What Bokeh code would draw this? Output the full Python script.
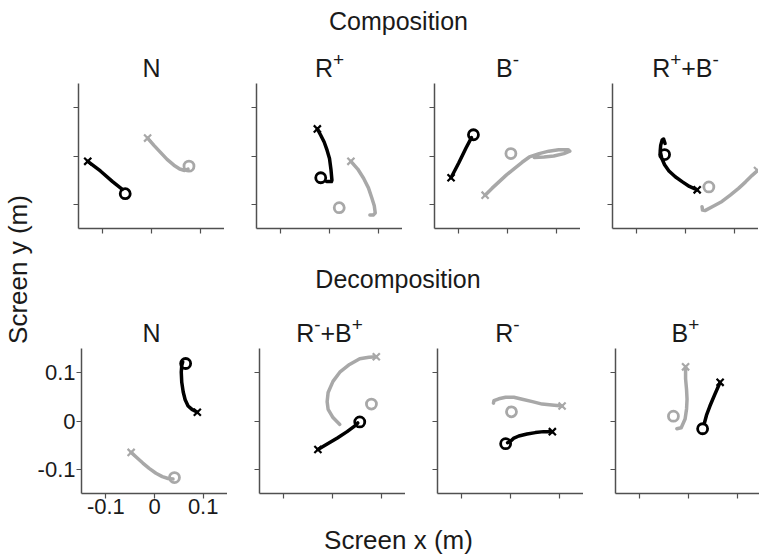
import math
from bokeh.plotting import figure
from bokeh.layouts import row, column
from bokeh.models import Range1d, FixedTicker, CustomJSTickFormatter
from bokeh.core.properties import value
from bokeh.embed import file_html
from bokeh.resources import INLINE

# ---------------- data ----------------
TICKS = [-0.1, 0.0, 0.1]
TICK_LABELS = ["-0.1", "0", "0.1"]
LIMITS = (-0.15, 0.15)

HEADERS = ["Composition", "Decomposition"]
X_LABEL = "Screen x (m)"
Y_LABEL = "Screen y (m)"

# panel titles: (text, is_superscript)
TITLES = [
    [("N", False)],
    [("R", False), ("+", True)],
    [("B", False), ("-", True)],
    [("R", False), ("+", True), ("+B", False), ("-", True)],
    [("N", False)],
    [("R", False), ("-", True), ("+B", False), ("+", True)],
    [("R", False), ("-", True)],
    [("B", False), ("+", True)],
]

# Composition, N
C_N_BLK_X = [-0.131, -0.105, -0.080, -0.060]
C_N_BLK_Y = [-0.011, -0.031, -0.053, -0.069]
C_N_BLK_O = [-0.054, -0.078]
C_N_GRY_X = [-0.008, 0.005, 0.018, 0.032, 0.046, 0.058, 0.068, 0.075]
C_N_GRY_Y = [0.037, 0.022, 0.008, -0.007, -0.019, -0.027, -0.030, -0.027]
C_N_GRY_O = [0.077, -0.021]

# Composition, R+
C_R_BLK_X = [-0.025, -0.018, -0.011, -0.005, 0.000, 0.003, 0.005, 0.004, -0.006]
C_R_BLK_Y = [0.056, 0.043, 0.029, 0.012, -0.005, -0.028, -0.050, -0.053, -0.053]
C_R_BLK_O = [-0.018, -0.045]
C_R_GRY_X = [0.044, 0.058, 0.070, 0.080, 0.087, 0.092, 0.094, 0.090, 0.083]
C_R_GRY_Y = [-0.011, -0.027, -0.046, -0.066, -0.087, -0.103, -0.118, -0.122, -0.122]
C_R_GRY_O = [0.020, -0.107]

# Composition, B-
C_B_BLK_X = [-0.116, -0.100, -0.085, -0.074]
C_B_BLK_Y = [-0.045, -0.014, 0.017, 0.038]
C_B_BLK_O = [-0.070, 0.044]
C_B_GRY_X = [-0.046, -0.032, -0.017, -0.002, 0.014, 0.030, 0.045, 0.065, 0.085,
             0.105, 0.125, 0.128, 0.116, 0.095, 0.075, 0.055]
C_B_GRY_Y = [-0.081, -0.067, -0.053, -0.039, -0.026, -0.013, -0.002, 0.005, 0.010,
             0.013, 0.013, 0.010, 0.005, 0.000, -0.002, -0.003]
C_B_GRY_O = [0.007, 0.005]

# Composition, R+ + B-
C_RB_BLK_X = [0.024, 0.008, -0.007, -0.021, -0.034, -0.043, -0.049, -0.052,
              -0.051, -0.048, -0.045, -0.042]
C_RB_BLK_Y = [-0.070, -0.063, -0.053, -0.043, -0.031, -0.018, -0.004, 0.010,
              0.022, 0.033, 0.035, 0.026]
C_RB_BLK_O = [-0.043, 0.003]
C_RB_GRY_X = [0.148, 0.137, 0.123, 0.109, 0.092, 0.075, 0.055, 0.040, 0.035, 0.034]
C_RB_GRY_Y = [-0.030, -0.040, -0.054, -0.067, -0.081, -0.094, -0.105, -0.113, -0.112, -0.105]
C_RB_GRY_O = [0.048, -0.064]

# Decomposition, N
D_N_BLK_X = [0.088, 0.077, 0.069, 0.063, 0.059, 0.056, 0.055, 0.056, 0.058]
D_N_BLK_Y = [0.018, 0.024, 0.031, 0.044, 0.060, 0.080, 0.101, 0.115, 0.122]
D_N_BLK_O = [0.064, 0.119]
D_N_GRY_X = [-0.048, -0.036, -0.024, -0.011, 0.003, 0.016, 0.028, 0.038]
D_N_GRY_Y = [-0.065, -0.076, -0.087, -0.098, -0.108, -0.115, -0.119, -0.120]
D_N_GRY_O = [0.041, -0.117]

# Decomposition, R- + B+
D_RB_BLK_X = [-0.030, -0.010, 0.010, 0.030, 0.046, 0.052]
D_RB_BLK_Y = [-0.059, -0.047, -0.035, -0.022, -0.010, -0.004]
D_RB_BLK_O = [0.056, -0.002]
D_RB_GRY_X = [0.090, 0.075, 0.056, 0.035, 0.015, 0.001, -0.009, -0.011, -0.009, 0.001, 0.015]
D_RB_GRY_Y = [0.133, 0.132, 0.129, 0.117, 0.101, 0.082, 0.059, 0.040, 0.024, 0.007, -0.007]
D_RB_GRY_O = [0.080, 0.035]

# Decomposition, R-
D_R_BLK_X = [0.086, 0.068, 0.051, 0.034, 0.017, 0.006, 0.000, -0.006]
D_R_BLK_Y = [-0.022, -0.022, -0.024, -0.027, -0.031, -0.036, -0.042, -0.045]
D_R_BLK_O = [-0.010, -0.047]
D_R_GRY_X = [0.106, 0.085, 0.065, 0.045, 0.024, 0.007, -0.010, -0.024, -0.034, -0.035]
D_R_GRY_Y = [0.031, 0.033, 0.035, 0.040, 0.045, 0.049, 0.049, 0.046, 0.042, 0.037]
D_R_GRY_O = [0.002, 0.019]

# Decomposition, B+
D_B_BLK_X = [0.065, 0.054, 0.044, 0.037, 0.033]
D_B_BLK_Y = [0.080, 0.055, 0.031, 0.012, -0.003]
D_B_BLK_O = [0.029, -0.016]
D_B_GRY_X = [-0.006, -0.006, -0.004, -0.003, -0.004, -0.007, -0.015, -0.024]
D_B_GRY_Y = [0.112, 0.087, 0.065, 0.045, 0.025, 0.004, -0.014, -0.016]
D_B_GRY_O = [-0.031, 0.010]

PANELS = [
    (C_N_BLK_X, C_N_BLK_Y, C_N_BLK_O, C_N_GRY_X, C_N_GRY_Y, C_N_GRY_O),
    (C_R_BLK_X, C_R_BLK_Y, C_R_BLK_O, C_R_GRY_X, C_R_GRY_Y, C_R_GRY_O),
    (C_B_BLK_X, C_B_BLK_Y, C_B_BLK_O, C_B_GRY_X, C_B_GRY_Y, C_B_GRY_O),
    (C_RB_BLK_X, C_RB_BLK_Y, C_RB_BLK_O, C_RB_GRY_X, C_RB_GRY_Y, C_RB_GRY_O),
    (D_N_BLK_X, D_N_BLK_Y, D_N_BLK_O, D_N_GRY_X, D_N_GRY_Y, D_N_GRY_O),
    (D_RB_BLK_X, D_RB_BLK_Y, D_RB_BLK_O, D_RB_GRY_X, D_RB_GRY_Y, D_RB_GRY_O),
    (D_R_BLK_X, D_R_BLK_Y, D_R_BLK_O, D_R_GRY_X, D_R_GRY_Y, D_R_GRY_O),
    (D_B_BLK_X, D_B_BLK_Y, D_B_BLK_O, D_B_GRY_X, D_B_GRY_Y, D_B_GRY_O),
]

# ---------------- layout / style ----------------
FONT = "Liberation Sans"
TEXT_COLOR = "#1a1a1a"
BLACK = "#000000"
GRAY = "#a8a8a8"
AXIS_COLOR = "#505050"

YLAB_W = 34                 # left strip holding the y label
FRAME_W, FRAME_H = 146, 145
LEFT0, LEFT = 44, 32        # left border of first / other panel columns
MAIN_W = LEFT0 + FRAME_W + 3 * (LEFT + FRAME_W)   # 724
STRIP_A, STRIP_B, STRIP_C = 83, 110, 32
BOT_TOP, BOT_BOTTOM = 10, 30
TOTAL_H = STRIP_A + FRAME_H + BOT_TOP + STRIP_B + FRAME_H + BOT_BOTTOM + STRIP_C  # 555

HEAD_SIZE = 25
LABEL_SIZE = 26
TITLE_SIZE = 25
SUP_SIZE = 19
SUP_RAISE = 10
TICK_SIZE = 22
CHAR_W = {"N": 0.722, "R": 0.722, "B": 0.667, "+": 0.584, "-": 0.333}


def text_fig(w, h):
    f = figure(width=w, height=h, x_range=Range1d(0, w), y_range=Range1d(h, 0),
               x_axis_type=None, y_axis_type=None, output_backend="svg",
               toolbar_location=None, min_border=0)
    f.outline_line_color = None
    f.xgrid.visible = False
    f.ygrid.visible = False
    return f


def add_text(f, x, y, text, size, angle=0.0, align="center"):
    # (x, y): wanted text baseline position (pixels from the strip's top-left);
    # the glyph is anchored at its middle, half a cap height above the baseline
    shift = 0.36 * size + 1
    if angle:
        x = x - shift
    else:
        y = y - shift
    f.text(x=[x], y=[y], text=[text], text_font=value(FONT),
           text_font_size=value(f"{size}px"), text_color=TEXT_COLOR,
           text_align=align, text_baseline="middle", angle=angle)


def add_titles(f, first, base):
    for i in range(4):
        pieces = TITLES[first + i]
        cx = LEFT0 + FRAME_W / 2 + i * (LEFT + FRAME_W)
        widths = [sum(CHAR_W[c] for c in t) * (SUP_SIZE if s else TITLE_SIZE)
                  for t, s in pieces]
        x = cx - sum(widths) / 2
        for (t, s), w in zip(pieces, widths):
            add_text(f, x, base - (SUP_RAISE if s else 0), t,
                     SUP_SIZE if s else TITLE_SIZE, align="left")
            x += w


def make_panel(idx):
    r, c = divmod(idx, 4)
    p = figure(frame_width=FRAME_W, frame_height=FRAME_H,
               x_range=Range1d(*LIMITS), y_range=Range1d(*LIMITS),
               output_backend="svg", toolbar_location=None,
               min_border_left=LEFT0 if c == 0 else LEFT, min_border_right=0,
               min_border_top=0, min_border_bottom=BOT_TOP if r == 0 else BOT_BOTTOM)
    p.outline_line_color = None
    p.xgrid.visible = False
    p.ygrid.visible = False
    show = (idx == 4)
    for ax in (p.xaxis[0], p.yaxis[0]):
        ax.ticker = FixedTicker(ticks=TICKS)
        ax.axis_line_color = AXIS_COLOR
        ax.axis_line_width = 1.5
        ax.major_tick_line_color = AXIS_COLOR
        ax.major_tick_line_width = 1.2
        ax.major_tick_in = 0
        ax.major_tick_out = 5
        ax.minor_tick_line_color = None
        ax.major_label_text_font = FONT
        ax.major_label_text_font_size = f"{TICK_SIZE}px"
        ax.major_label_text_color = TEXT_COLOR
        if show:
            ax.formatter = CustomJSTickFormatter(args=dict(labels=TICK_LABELS),
                                                 code="return labels[index];")
        else:
            ax.major_label_text_font_size = "0px"
            ax.formatter = CustomJSTickFormatter(code="return '';")
        ax.major_label_standoff = 0
    if show:
        p.yaxis[0].major_label_standoff = 1

    bx, by, bo, gx, gy, go = PANELS[idx]
    p.line(gx, gy, line_color=GRAY, line_width=3.5, line_cap="round", line_join="round")
    p.scatter([gx[0]], [gy[0]], marker="x", size=10, line_color=GRAY, line_width=2.2)
    p.scatter([go[0]], [go[1]], marker="circle", size=10, fill_color=None,
              line_color=GRAY, line_width=2.8)
    p.line(bx, by, line_color=BLACK, line_width=3.5, line_cap="round", line_join="round")
    p.scatter([bx[0]], [by[0]], marker="x", size=10, line_color=BLACK, line_width=2.2)
    p.scatter([bo[0]], [bo[1]], marker="circle", size=10, fill_color=None,
              line_color=BLACK, line_width=2.8)
    return p


# strips with texts (coordinates: pixels from the strip's top-left corner)
ylab = text_fig(YLAB_W, TOTAL_H)
add_text(ylab, 28, 269, Y_LABEL, LABEL_SIZE, angle=math.pi / 2)

strip_a = text_fig(MAIN_W, STRIP_A)
add_text(strip_a, 364, 30.5, HEADERS[0], HEAD_SIZE)
add_titles(strip_a, 0, 77)

strip_b = text_fig(MAIN_W, STRIP_B)
add_text(strip_b, 363.5, 50, HEADERS[1], HEAD_SIZE)
add_titles(strip_b, 4, 104)

strip_c = text_fig(MAIN_W, STRIP_C)
add_text(strip_c, 364, 26.8, X_LABEL, LABEL_SIZE)

panels = [make_panel(i) for i in range(8)]
main = column(strip_a, row(*panels[:4]), strip_b, row(*panels[4:]), strip_c)
layout = row(ylab, main)

open("out.html", "w").write(file_html(layout, INLINE))
